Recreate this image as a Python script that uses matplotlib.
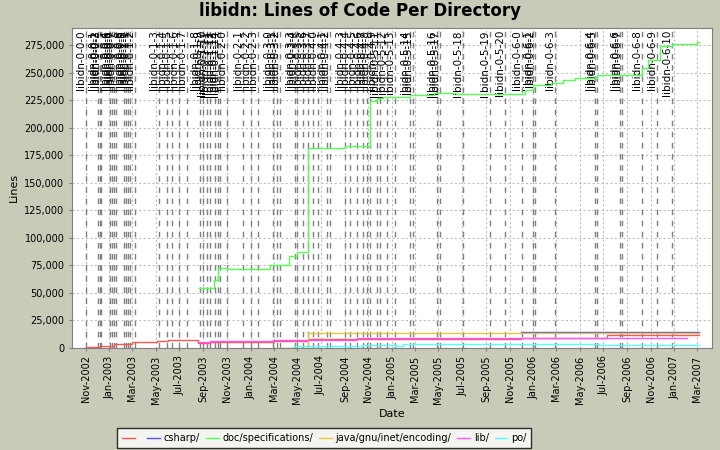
import datetime as dt
import matplotlib
matplotlib.use("Agg")
import matplotlib.pyplot as plt
import matplotlib.dates as mdates
from matplotlib.ticker import FuncFormatter, MultipleLocator

# tags (vertical markers)
tag_names = [
    "libidn-0-0-0", "libidn-0-0-1", "libidn-0-0-2", "libidn-0-0-3", "libidn-0-0-4",
    "libidn-0-0-5", "libidn-0-0-6", "libidn-0-0-7", "libidn-0-0-8", "libidn-0-0-9",
    "libidn-0-1-0", "libidn-0-1-1", "libidn-0-1-2", "libidn-0-1-3", "libidn-0-1-4",
    "libidn-0-1-5", "libidn-0-1-6", "libidn-0-1-7", "libidn-0-1-8", "libidn-0-1-9",
    "libidn-0-1-10", "libidn-0-1-11", "libidn-0-1-12", "libidn-0-1-13", "libidn-0-1-14",
    "libidn-0-2-0", "libidn-0-2-1", "libidn-0-2-2", "libidn-0-2-3", "libidn-0-3-0",
    "libidn-0-3-1", "libidn-0-3-2", "libidn-0-3-3", "libidn-0-3-4", "libidn-0-3-5",
    "libidn-0-3-6", "libidn-0-3-7", "libidn-0-4-0", "libidn-0-4-1", "libidn-0-4-2",
    "libidn-0-4-3", "libidn-0-4-4", "libidn-0-4-5", "libidn-0-4-6", "libidn-0-4-7",
    "libidn-0-4-8", "libidn-0-4-9", "libidn-0-5-11", "libidn-0-5-12",
    "libidn-0-5-13", "libidn-0-5-14", "libidn-0-5-15", "libidn-0-5-16", "libidn-0-5-17",
    "libidn-0-5-18", "libidn-0-5-19", "libidn-0-5-20", "libidn-0-6-0", "libidn-0-6-1",
    "libidn-0-6-2", "libidn-0-6-3", "libidn-0-6-4", "libidn-0-6-5", "libidn-0-6-6",
    "libidn-0-6-7", "libidn-0-6-8", "libidn-0-6-9", "libidn-0-6-10",
]
tag_dates = [
    "2002-11-01", "2002-12-02", "2002-12-07", "2002-12-10", "2003-01-02",
    "2003-01-07", "2003-01-12", "2003-01-18", "2003-02-07", "2003-02-12",
    "2003-02-18", "2003-02-23", "2003-03-08", "2003-05-09", "2003-05-30",
    "2003-06-12", "2003-06-30", "2003-07-20", "2003-08-23", "2003-08-31",
    "2003-09-10", "2003-09-18", "2003-10-01", "2003-10-09", "2003-10-14",
    "2003-11-01", "2003-12-12", "2004-01-02", "2004-01-20", "2004-02-28",
    "2004-03-09", "2004-03-17", "2004-04-25", "2004-04-30", "2004-05-15",
    "2004-05-28", "2004-06-10", "2004-06-23", "2004-07-17", "2004-07-24",
    "2004-09-01", "2004-09-14", "2004-10-02", "2004-10-18", "2004-10-28",
    "2004-11-05", "2004-11-23", "2004-12-01", "2004-12-19",
    "2005-01-09", "2005-02-16", "2005-02-24", "2005-04-27", "2005-05-05",
    "2005-07-03", "2005-09-11", "2005-10-20", "2005-12-03", "2006-01-01",
    "2006-01-06", "2006-02-27", "2006-06-10", "2006-06-15", "2006-08-14",
    "2006-08-19", "2006-10-10", "2006-11-17", "2006-12-26",
]

# series: (dates, lines of code), drawn as steps
root_dates = ["2002-11-01", "2002-12-07", "2003-01-12", "2003-02-28", "2003-05-04",
              "2003-06-01", "2003-06-19", "2003-08-18", "2003-09-18", "2004-02-28",
              "2004-05-28", "2004-10-02", "2005-12-01", "2006-07-10", "2007-03-05"]
root_loc = [1200, 2100, 3600, 5500, 6100, 7300, 7000, 4200, 5000, 6400,
            7600, 8500, 9400, 11800, 11800]

csharp_dates = ["2005-12-01", "2007-03-05"]
csharp_loc = [14200, 14200]

doc_dates = ["2003-08-20", "2003-09-28", "2003-10-09", "2003-11-01", "2004-02-20",
             "2004-04-10", "2004-05-01", "2004-05-28", "2004-09-01", "2004-11-05",
             "2004-11-23", "2004-12-08", "2005-02-16", "2005-04-20", "2005-06-15",
             "2005-12-10", "2006-01-01", "2006-02-15", "2006-03-20", "2006-04-20",
             "2006-06-15", "2006-10-10", "2006-10-25", "2006-11-25", "2006-12-26",
             "2007-03-01", "2007-03-05"]
doc_loc = [54500, 62000, 73000, 72000, 75500,
           83600, 87000, 182000, 183600, 224500,
           227000, 228000, 230000, 231800, 231000,
           234500, 239000, 241000, 243600, 245500,
           248000, 254500, 262000, 274500, 276000,
           278000, 278000]

java_dates = ["2004-03-09", "2004-05-28", "2007-03-05"]
java_loc = [300, 13400, 13400]

lib_dates = ["2003-08-18", "2003-09-18", "2004-02-28", "2004-10-02", "2005-12-01",
             "2007-02-03"]
lib_loc = [5200, 5900, 7300, 9400, 8800, 8800]

po_dates = ["2004-03-09", "2004-04-23", "2004-10-18", "2005-01-09", "2005-01-29",
            "2006-06-20", "2007-03-05"]
po_loc = [300, 1800, 2700, 2100, 3300, 3000, 3000]

series = [
    (" ", root_dates, root_loc, "#FF5555"),
    ("csharp/", csharp_dates, csharp_loc, "#5555FF"),
    ("doc/specifications/", doc_dates, doc_loc, "#55FF55"),
    ("java/gnu/inet/encoding/", java_dates, java_loc, "#E8C83A"),
    ("lib/", lib_dates, lib_loc, "#FF55FF"),
    ("po/", po_dates, po_loc, "#55FFFF"),
]


def to_dt(s):
    return dt.datetime.strptime(s, "%Y-%m-%d")


bg = "#CACAB9"
fig = plt.figure(figsize=(7.2, 4.5), dpi=100, facecolor=bg)
ax = fig.add_axes([0.1, 0.227, 0.889, 0.711])
ax.set_facecolor("white")

for d, name in zip(tag_dates, tag_names):
    x = to_dt(d)
    ax.axvline(x, color="#808080", lw=1, ls=(0, (4, 4)), zorder=1)
    ax.text(x, 289000, name, rotation=90, ha="right", va="top", fontsize=7.5,
            color="black", zorder=2, clip_on=True)

for label, dts, vals, col in series:
    ax.step([to_dt(s) for s in dts], vals, where="post", color=col, lw=1,
            label=label, zorder=3)

ax.set_xlim(to_dt("2002-09-26"), to_dt("2007-04-09"))
ax.set_ylim(0, 291000)

ax.xaxis.set_major_locator(mdates.MonthLocator(bymonth=[1, 3, 5, 7, 9, 11]))
ax.xaxis.set_major_formatter(mdates.DateFormatter("%b-%Y"))
ax.yaxis.set_major_locator(MultipleLocator(25000))
ax.yaxis.set_major_formatter(FuncFormatter(lambda v, p: f"{int(v):,}"))

ax.grid(True, color="#C0C0C0", ls=(0, (2, 2)), lw=0.8, zorder=0)
ax.set_axisbelow(True)
ax.tick_params(axis="both", labelsize=7, length=2, color="#808080")
plt.setp(ax.get_xticklabels(), rotation=90)
for sp in ax.spines.values():
    sp.set_color("#808080")

ax.set_xlabel("Date", fontsize=8)
ax.set_ylabel("Lines", fontsize=8)
fig.suptitle("libidn: Lines of Code Per Directory", fontsize=12, fontweight="bold", y=0.995)

leg = fig.legend(loc="lower left", bbox_to_anchor=(0.1625, 0.004), ncol=6, fontsize=7.0,
                 frameon=True, fancybox=False, edgecolor="black", handlelength=1.3,
                 handletextpad=0.4, columnspacing=0.6, borderpad=0.5, borderaxespad=0)
leg.get_frame().set_linewidth(1)

fig.savefig("out.png", dpi=100, facecolor=bg)
